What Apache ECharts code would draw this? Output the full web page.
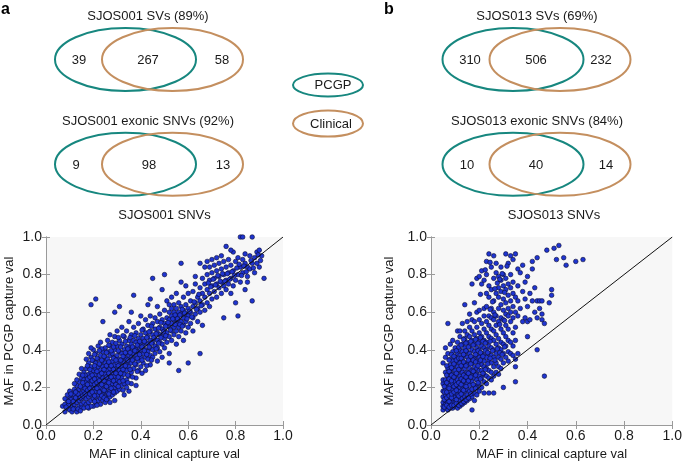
<!DOCTYPE html>
<html><head><meta charset="utf-8">
<script src="https://cdn.jsdelivr.net/npm/echarts@6/dist/echarts.min.js"></script>
<style>html,body{margin:0;padding:0;background:#fff}#c{width:685px;height:464px}</style>
</head><body><div id="c"></div>
<script>
// ---------- data ----------
const vennTitles = ['SJOS001 SVs (89%)', 'SJOS001 exonic SNVs (92%)', 'SJOS013 SVs (69%)', 'SJOS013 exonic SNVs (84%)'];
const vennSJOS001SV = [39, 267, 58];
const vennSJOS001SNV = [9, 98, 13];
const vennSJOS013SV = [310, 506, 232];
const vennSJOS013SNV = [10, 40, 14];
const legendNames = ['PCGP', 'Clinical'];
const scatterTitles = ['SJOS001 SNVs', 'SJOS013 SNVs'];
const xAxisName = 'MAF in clinical capture val';
const yAxisName = 'MAF in PCGP capture val';
const tickValues = [0, 0.2, 0.4, 0.6, 0.8, 1.0];
const diagonal = [[0, 0], [1, 1]];

const sjos001Points = [
[.07,.10],[.08,.11],[.08,.07],[.09,.09],[.09,.13],[.10,.08],[.10,.12],[.10,.15],[.11,.10],[.11,.14],[.11,.17],[.12,.09],[.12,.13],[.12,.16],[.12,.11],[.08,.14],[.09,.16],[.10,.18],[.11,.07],[.12,.19],[.13,.07],
[.13,.12],[.13,.15],[.13,.18],[.13,.21],[.14,.10],[.14,.13],[.14,.16],[.14,.19],[.14,.23],[.15,.11],[.15,.14],[.15,.17],[.15,.20],[.15,.25],[.15,.30],[.16,.12],[.16,.15],[.16,.18],[.16,.21],[.16,.24],[.16,.28],[.13,.24],[.14,.27],[.15,.09],[.16,.09],[.12,.22],
[.17,.11],[.17,.14],[.17,.17],[.17,.20],[.17,.23],[.17,.26],[.17,.30],[.18,.12],[.18,.15],[.18,.18],[.18,.21],[.18,.24],[.18,.27],[.18,.33],[.19,.13],[.19,.16],[.19,.19],[.19,.22],[.19,.25],[.19,.28],[.19,.31],[.19,.36],[.20,.10],[.20,.14],[.20,.17],[.20,.20],[.20,.23],[.20,.26],[.20,.29],[.20,.34],[.20,.40],[.17,.35],[.18,.38],[.19,.41],[.19,.64],[.18,.09],[.19,.10],
[.21,.12],[.21,.15],[.21,.18],[.21,.21],[.21,.24],[.21,.27],[.21,.30],[.21,.33],[.21,.38],[.21,.67],[.22,.13],[.22,.16],[.22,.19],[.22,.22],[.22,.25],[.22,.28],[.22,.31],[.22,.35],[.22,.42],[.23,.11],[.23,.14],[.23,.17],[.23,.20],[.23,.23],[.23,.26],[.23,.29],[.23,.32],[.23,.37],[.23,.44],[.24,.13],[.24,.16],[.24,.19],[.24,.22],[.24,.25],[.24,.28],[.24,.31],[.24,.34],[.24,.39],[.24,.55],[.25,.12],[.25,.15],[.25,.18],[.25,.21],[.25,.24],[.25,.27],[.25,.30],[.25,.33],[.25,.36],[.25,.41],
[.26,.14],[.26,.17],[.26,.20],[.26,.23],[.26,.26],[.26,.29],[.26,.32],[.26,.35],[.26,.39],[.26,.45],[.27,.15],[.27,.18],[.27,.21],[.27,.24],[.27,.27],[.27,.30],[.27,.33],[.27,.37],[.27,.42],[.27,.48],[.28,.16],[.28,.19],[.28,.22],[.28,.25],[.28,.28],[.28,.31],[.28,.34],[.28,.38],[.28,.44],[.29,.17],[.29,.20],[.29,.23],[.29,.26],[.29,.29],[.29,.32],[.29,.36],[.29,.40],[.29,.47],[.29,.60],[.30,.18],[.30,.21],[.30,.24],[.30,.27],[.30,.30],[.30,.33],[.30,.37],[.30,.42],[.30,.50],[.27,.12],[.29,.13],
[.31,.19],[.31,.23],[.31,.26],[.31,.29],[.31,.32],[.31,.35],[.31,.39],[.31,.45],[.31,.63],[.32,.21],[.32,.25],[.32,.28],[.32,.31],[.32,.34],[.32,.38],[.32,.43],[.32,.52],[.33,.22],[.33,.27],[.33,.30],[.33,.33],[.33,.36],[.33,.40],[.33,.47],[.34,.24],[.34,.29],[.34,.32],[.34,.35],[.34,.38],[.34,.42],[.34,.50],[.35,.18],[.35,.26],[.35,.31],[.35,.34],[.35,.37],[.35,.41],[.35,.45],[.35,.55],[.33,.16],[.34,.20],
[.36,.28],[.36,.33],[.36,.36],[.36,.39],[.36,.43],[.36,.48],[.36,.60],[.37,.30],[.37,.35],[.37,.38],[.37,.41],[.37,.45],[.37,.52],[.37,.69],[.38,.25],[.38,.32],[.38,.37],[.38,.40],[.38,.44],[.38,.49],[.39,.29],[.39,.34],[.39,.39],[.39,.42],[.39,.46],[.39,.54],[.40,.31],[.40,.36],[.40,.40],[.40,.44],[.40,.48],[.40,.58],[.36,.22],[.38,.21],
[.41,.33],[.41,.38],[.41,.42],[.41,.46],[.41,.51],[.42,.29],[.42,.36],[.42,.40],[.42,.44],[.42,.49],[.42,.56],[.43,.35],[.43,.39],[.43,.43],[.43,.47],[.43,.53],[.43,.64],[.44,.32],[.44,.37],[.44,.41],[.44,.45],[.44,.50],[.44,.58],[.45,.36],[.45,.40],[.45,.44],[.45,.48],[.45,.54],[.45,.78],[.44,.67],
[.46,.38],[.46,.42],[.46,.46],[.46,.51],[.46,.57],[.47,.34],[.47,.41],[.47,.45],[.47,.49],[.47,.55],[.48,.39],[.48,.44],[.48,.48],[.48,.52],[.48,.59],[.49,.36],[.49,.43],[.49,.47],[.49,.51],[.49,.56],[.49,.72],[.50,.41],[.50,.46],[.50,.50],[.50,.54],[.50,.61],[.50,.80],[.47,.63],
[.51,.44],[.51,.49],[.51,.53],[.51,.57],[.51,.66],[.52,.33],[.52,.38],[.52,.47],[.52,.52],[.52,.56],[.52,.60],[.53,.45],[.53,.50],[.53,.54],[.53,.58],[.53,.62],[.53,.68],[.54,.48],[.54,.52],[.54,.56],[.54,.60],[.54,.64],[.55,.43],[.55,.50],[.55,.54],[.55,.58],[.55,.62],[.55,.70],[.52,.64],
[.56,.29],[.56,.47],[.56,.52],[.56,.56],[.56,.60],[.56,.65],[.57,.50],[.57,.55],[.57,.59],[.57,.63],[.57,.86],[.58,.45],[.58,.53],[.58,.57],[.58,.61],[.58,.68],[.59,.49],[.59,.55],[.59,.59],[.59,.64],[.59,.74],[.60,.33],[.60,.52],[.60,.58],[.60,.62],[.60,.70],[.57,.76],
[.61,.54],[.61,.60],[.61,.66],[.62,.50],[.62,.57],[.62,.63],[.62,.71],[.63,.59],[.63,.65],[.63,.75],[.64,.55],[.64,.62],[.64,.68],[.65,.38],[.65,.60],[.65,.66],[.65,.73],[.66,.53],[.66,.64],[.66,.70],[.66,.78],[.67,.61],[.67,.68],[.67,.75],[.67,.84],[.68,.65],[.68,.72],[.68,.80],[.68,.87],[.69,.63],[.69,.70],[.69,.77],[.69,.84],[.70,.67],[.70,.74],[.70,.81],[.70,.88],[.65,.86],[.63,.79],
[.71,.71],[.71,.78],[.71,.85],[.72,.68],[.72,.75],[.72,.82],[.72,.89],[.73,.73],[.73,.79],[.73,.86],[.74,.70],[.74,.76],[.74,.83],[.74,.90],[.75,.57],[.75,.74],[.75,.80],[.75,.87],[.76,.72],[.76,.77],[.76,.84],[.76,.95],[.77,.75],[.77,.81],[.77,.88],[.78,.70],[.78,.78],[.78,.85],[.79,.74],[.79,.82],[.79,.92],[.80,.77],[.80,.87],[.80,.65],[.78,.93],
[.81,.58],[.81,.80],[.81,.89],[.82,.76],[.82,.84],[.82,1.0],[.83,.81],[.83,.88],[.83,1.0],[.84,.72],[.84,.86],[.84,.91],[.85,.79],[.85,.84],[.86,.83],[.86,.90],[.87,.66],[.87,.86],[.87,1.0],[.88,.81],[.88,.89],[.89,.92],[.90,.84],[.90,.93],[.91,.90],[.92,.78],[.85,.76],[.89,.86],
[.095,.105],[.105,.135],[.115,.125],[.125,.145],[.135,.165],[.125,.175],[.145,.145],[.145,.205],[.155,.155],[.155,.225],[.165,.165],[.165,.195],[.165,.265],[.175,.185],[.175,.215],[.175,.245],[.185,.165],[.185,.195],[.185,.255],[.185,.295],[.195,.175],[.195,.235],[.195,.265],[.205,.155],[.205,.215],[.205,.245],[.205,.315],[.215,.195],[.215,.225],[.215,.285],[.215,.355],[.225,.175],[.225,.235],[.225,.265],[.225,.325],[.235,.155],[.235,.215],[.235,.275],[.235,.345],[.235,.405],[.245,.185],[.245,.235],[.245,.295],[.245,.365],[.255,.205],[.255,.255],[.255,.315],[.255,.385],[.265,.225],[.265,.275],[.265,.335],[.265,.425],[.275,.195],[.275,.255],[.275,.315],[.275,.395],[.285,.235],[.285,.295],[.285,.355],[.285,.415],[.295,.215],[.295,.275],[.295,.345],[.295,.435],[.305,.255],[.305,.315],[.305,.395],[.305,.465],[.315,.275],[.315,.345],[.315,.415],[.325,.235],[.325,.295],[.325,.365],[.325,.475],[.335,.315],[.335,.385],[.335,.445],[.345,.265],[.345,.345],[.345,.405],[.355,.295],[.355,.385],[.355,.465],[.365,.345],[.365,.415],[.375,.325],[.375,.395],[.375,.475],[.385,.355],[.385,.425],[.395,.375],[.395,.445],[.405,.345],[.405,.415],[.405,.505],[.415,.395],[.415,.445],[.425,.375],[.425,.465],[.435,.415],[.435,.495],[.445,.435],[.445,.525],[.455,.465],[.465,.405],[.465,.485],[.475,.435],[.475,.515],[.485,.465],[.485,.545],[.495,.495],[.505,.525],[.505,.475],[.515,.545],[.525,.505],[.535,.565],[.545,.535],[.545,.585],[.555,.565],[.565,.535],[.565,.585],[.575,.525],[.575,.615],[.585,.595],[.595,.565],[.605,.605],[.615,.575],[.625,.655],[.635,.615],[.645,.695],[.655,.635],[.685,.755],[.695,.735],[.705,.775],[.715,.745],[.725,.795],[.735,.765],[.745,.805],[.755,.765],[.765,.805],[.775,.775],[.785,.815],[.795,.795],[.805,.835],[.815,.855],[.825,.795],[.835,.845],[.845,.815],[.865,.875],[.875,.835],[.895,.905],[.905,.875],
[.135,.085],[.155,.265],[.175,.315],[.195,.345],[.205,.375],[.225,.395],[.245,.145],[.255,.135],[.265,.165],[.285,.175],[.305,.205],[.325,.185],[.345,.225],[.365,.255],[.385,.285],[.405,.275],[.425,.315],[.445,.345],[.205,.125],[.215,.105],[.175,.095],[.145,.075],[.115,.085],[.085,.095],[.095,.125],[.105,.165]
];

const sjos013Points = [
[.05,.08],[.05,.10],[.05,.12],[.05,.15],[.05,.18],[.05,.22],[.05,.24],[.05,.33],[.06,.09],[.06,.11],[.06,.13],[.06,.16],[.06,.19],[.06,.21],[.06,.24],[.06,.28],[.06,.36],[.06,.41],[.07,.08],[.07,.10],[.07,.12],[.07,.14],[.07,.17],[.07,.20],[.07,.23],[.07,.26],[.07,.30],[.07,.38],[.07,.54],[.08,.09],[.08,.11],[.08,.13],[.08,.15],[.08,.18],[.08,.21],[.08,.25],[.08,.28],[.08,.32],[.08,.35],[.08,.43],[.09,.09],[.09,.12],[.09,.14],[.09,.16],[.09,.19],[.09,.22],[.09,.24],[.09,.27],[.09,.30],[.09,.34],[.09,.39],[.09,.45],[.10,.10],[.10,.12],[.10,.15],[.10,.17],[.10,.20],[.10,.23],[.10,.26],[.10,.29],[.10,.32],[.10,.36],[.10,.41],[.11,.09],[.11,.11],[.11,.14],[.11,.16],[.11,.19],[.11,.21],[.11,.24],[.11,.27],[.11,.31],[.11,.34],[.11,.38],[.11,.44],[.11,.50],[.12,.10],[.12,.13],[.12,.15],[.12,.18],[.12,.20],[.12,.23],[.12,.26],[.12,.29],[.12,.33],[.12,.37],[.12,.40],[.12,.47],[.12,.50],
[.13,.11],[.13,.14],[.13,.17],[.13,.19],[.13,.22],[.13,.25],[.13,.28],[.13,.31],[.13,.35],[.13,.39],[.13,.43],[.13,.54],[.14,.12],[.14,.15],[.14,.18],[.14,.21],[.14,.24],[.14,.27],[.14,.30],[.14,.33],[.14,.37],[.14,.41],[.14,.46],[.14,.50],[.14,.64],[.15,.13],[.15,.16],[.15,.19],[.15,.22],[.15,.25],[.15,.28],[.15,.32],[.15,.36],[.15,.39],[.15,.44],[.15,.48],[.15,.55],[.16,.14],[.16,.18],[.16,.21],[.16,.24],[.16,.27],[.16,.30],[.16,.34],[.16,.38],[.16,.42],[.16,.47],[.16,.52],[.16,.59],[.17,.08],[.17,.15],[.17,.19],[.17,.23],[.17,.26],[.17,.29],[.17,.33],[.17,.36],[.17,.40],[.17,.45],[.17,.50],[.17,.56],[.17,.75],[.18,.13],[.18,.17],[.18,.21],[.18,.25],[.18,.28],[.18,.31],[.18,.35],[.18,.39],[.18,.43],[.18,.48],[.18,.55],[.18,.65],[.19,.16],[.19,.20],[.19,.24],[.19,.27],[.19,.30],[.19,.34],[.19,.37],[.19,.41],[.19,.46],[.19,.52],[.19,.60],[.19,.78],[.20,.18],[.20,.22],[.20,.26],[.20,.29],[.20,.33],[.20,.36],[.20,.40],[.20,.44],[.20,.49],[.20,.56],[.20,.61],[.20,.79],
[.21,.20],[.21,.25],[.21,.29],[.21,.32],[.21,.35],[.21,.38],[.21,.42],[.21,.47],[.21,.54],[.21,.75],[.21,.82],[.22,.17],[.22,.23],[.22,.27],[.22,.31],[.22,.34],[.22,.37],[.22,.41],[.22,.45],[.22,.51],[.22,.58],[.22,.62],[.22,.77],[.23,.22],[.23,.26],[.23,.30],[.23,.36],[.23,.40],[.23,.44],[.23,.49],[.23,.55],[.23,.63],[.23,.70],[.23,.80],[.23,.87],[.24,.17],[.24,.25],[.24,.29],[.24,.34],[.24,.38],[.24,.42],[.24,.47],[.24,.53],[.24,.58],[.24,.68],[.24,.74],[.24,.91],[.25,.24],[.25,.28],[.25,.33],[.25,.37],[.25,.41],[.25,.46],[.25,.51],[.25,.57],[.25,.62],[.25,.72],[.25,.84],[.26,.17],[.26,.26],[.26,.31],[.26,.36],[.26,.40],[.26,.45],[.26,.50],[.26,.56],[.26,.60],[.26,.66],[.26,.78],[.26,.90],[.27,.28],[.27,.33],[.27,.38],[.27,.43],[.27,.48],[.27,.53],[.27,.58],[.27,.70],[.27,.81],[.27,.86],[.28,.27],[.28,.31],[.28,.36],[.28,.41],[.28,.46],[.28,.55],[.28,.62],[.28,.68],[.28,.73],[.28,.79],
[.29,.30],[.29,.35],[.29,.40],[.29,.44],[.29,.51],[.29,.57],[.29,.64],[.29,.71],[.29,.77],[.29,.84],[.30,.20],[.30,.33],[.30,.38],[.30,.43],[.30,.49],[.30,.56],[.30,.61],[.30,.67],[.30,.74],[.30,.80],[.31,.36],[.31,.42],[.31,.47],[.31,.53],[.31,.59],[.31,.65],[.31,.72],[.31,.78],[.31,.91],[.32,.34],[.32,.39],[.32,.45],[.32,.51],[.32,.58],[.32,.62],[.32,.69],[.32,.75],[.32,.86],[.33,.38],[.33,.44],[.33,.55],[.33,.60],[.33,.66],[.33,.73],[.33,.80],[.33,.90],[.34,.37],[.34,.42],[.34,.49],[.34,.57],[.34,.63],[.34,.70],[.34,.76],[.34,.88],[.35,.23],[.35,.31],[.35,.35],[.35,.45],[.35,.52],[.35,.60],[.35,.68],[.35,.91],[.36,.38],[.36,.58],[.36,.66],[.36,.74],[.36,.83],
[.37,.62],[.37,.81],[.38,.55],[.38,.71],[.38,.85],[.39,.57],[.39,.67],[.39,.76],[.40,.47],[.40,.55],[.40,.63],[.40,.79],[.41,.56],[.41,.70],[.42,.66],[.42,.83],[.42,.87],[.43,.73],[.43,.60],[.44,.40],[.44,.57],[.44,.66],[.44,.89],[.45,.62],[.45,.66],[.46,.56],[.46,.66],[.46,.59],[.47,.26],[.47,.54],[.48,.93],[.49,.65],[.50,.72],[.50,.69],[.51,.94],[.52,.88],[.53,.955],[.55,.89],[.56,.85],[.60,.87],[.63,.88],
[.055,.095],[.055,.135],[.055,.175],[.055,.205],[.065,.105],[.065,.145],[.065,.175],[.065,.225],[.065,.265],[.065,.315],[.075,.095],[.075,.125],[.075,.155],[.075,.195],[.075,.245],[.075,.285],[.075,.345],[.085,.105],[.085,.145],[.085,.165],[.085,.235],[.085,.265],[.085,.305],[.085,.375],[.095,.105],[.095,.175],[.095,.205],[.095,.255],[.095,.325],[.095,.365],[.105,.115],[.105,.135],[.105,.185],[.105,.215],[.105,.275],[.105,.345],[.105,.395],[.115,.105],[.115,.155],[.115,.225],[.115,.295],[.115,.355],[.115,.415],[.125,.115],[.125,.165],[.125,.215],[.125,.245],[.125,.315],[.125,.355],[.125,.425],[.135,.125],[.135,.185],[.135,.235],[.135,.265],[.135,.335],[.135,.375],[.135,.455],[.145,.135],[.145,.205],[.145,.255],[.145,.315],[.145,.395],[.145,.435],[.155,.145],[.155,.235],[.155,.275],[.155,.345],[.155,.415],[.165,.165],[.165,.255],[.165,.325],[.165,.365],[.165,.445],[.175,.215],[.175,.285],[.175,.345],[.175,.425],[.185,.195],[.185,.265],[.185,.335],[.185,.375],[.185,.455],[.195,.225],[.195,.315],[.195,.395],[.195,.435],[.205,.245],[.205,.345],[.205,.385],[.205,.465],[.215,.275],[.215,.365],[.215,.445],[.225,.295],[.225,.395],[.225,.435],[.235,.325],[.235,.385],[.245,.355],[.245,.445],[.255,.395],[.265,.345],[.275,.405],[.285,.385],[.295,.375],[.305,.415],[.275,.755],[.285,.775],[.265,.725],[.295,.805],[.305,.705],[.315,.845],[.255,.655],[.245,.615],[.265,.585],[.285,.535],[.305,.555],[.245,.865],[.225,.825],[.205,.695]
];

// ---------- styling ----------
const TEAL = '#17877f';
const BROWN = '#c48f5f';
const FONT = 'Liberation Sans, Arial, sans-serif';
const TXT = '#1a1a1a';

function txt(x, y, s, extra) {
  return Object.assign({ type: 'text', x: x, y: y, style: { text: s, fill: TXT, font: '13px ' + FONT, textAlign: 'center', textVerticalAlign: 'middle' } }, extra || {});
}
function ell(cx, cy, rx, ry, color) {
  return { type: 'ellipse', shape: { cx: cx, cy: cy, rx: rx, ry: ry }, style: { fill: 'none', stroke: color, lineWidth: 2 } };
}
function venn(title, counts, leftCx, cy, titleX, numXs) {
  return [
    txt(titleX, cy - 43, title),
    ell(leftCx, cy, 70.5, 31.5, TEAL),
    ell(leftCx + 47, cy, 70.5, 31.5, BROWN),
    txt(numXs[0], cy + 1, String(counts[0])),
    txt(numXs[1], cy + 1, String(counts[1])),
    txt(numXs[2], cy + 1, String(counts[2]))
  ];
}

const graphics = [].concat(
  venn(vennTitles[0], vennSJOS001SV, 125.5, 59.5, 148, [79, 148, 222]),
  venn(vennTitles[1], vennSJOS001SNV, 125.5, 164.3, 148, [76, 149, 223]),
  venn(vennTitles[2], vennSJOS013SV, 513, 59.5, 537, [470, 536, 601]),
  venn(vennTitles[3], vennSJOS013SNV, 513, 164.3, 537, [467, 536, 606]),
  [
    ell(328, 85, 35, 11.5, TEAL),
    txt(333, 85.5, legendNames[0]),
    ell(328, 123.5, 35, 13, BROWN),
    txt(331, 124, legendNames[1]),
    { type: 'text', x: 1, y: 2, style: { text: 'a', fill: '#000', font: 'bold 16px ' + FONT } },
    { type: 'text', x: 384, y: 2, style: { text: 'b', fill: '#000', font: 'bold 16px ' + FONT } },
    txt(164.5, 215, scatterTitles[0]),
    txt(554, 215, scatterTitles[1])
  ]
);

const grids = [
  { left: 46, top: 237, width: 237, height: 188 },
  { left: 431, top: 237, width: 246, height: 188 }
];

const xAxes = [], yAxes = [];
const axisColor = '#9a9a9a';
const labelStyle = { color: TXT, fontSize: 14, fontFamily: FONT };
[0, 1].forEach(function (g) {
  xAxes.push({
    type: 'value', gridIndex: g, min: 0, max: 1, interval: 0.2, position: 'bottom',
    name: xAxisName, nameLocation: 'middle', nameGap: 23,
    nameTextStyle: { color: TXT, fontSize: 13, fontFamily: FONT },
    axisLine: { show: true, lineStyle: { color: axisColor } },
    axisTick: { show: true, inside: true, length: 4, lineStyle: { color: axisColor } },
    axisLabel: Object.assign({ margin: 4, formatter: function (v) { return v.toFixed(1); } }, labelStyle),
    splitLine: { show: false }
  });
  xAxes.push({
    type: 'value', gridIndex: g, min: 0, max: 1, interval: 0.2, position: 'top',
    axisLine: { show: true, lineStyle: { color: axisColor } },
    axisTick: { show: true, inside: true, length: 4, lineStyle: { color: axisColor } },
    axisLabel: { show: false }, splitLine: { show: false }
  });
  yAxes.push({
    type: 'value', gridIndex: g, min: 0, max: 1, interval: 0.2, position: 'left',
    name: yAxisName, nameLocation: 'middle', nameGap: g === 0 ? 30 : 35,
    nameTextStyle: { color: TXT, fontSize: 13, fontFamily: FONT },
    axisLine: { show: true, lineStyle: { color: axisColor } },
    axisTick: { show: true, inside: true, length: 4, lineStyle: { color: axisColor } },
    axisLabel: Object.assign({ margin: 4, formatter: function (v) { return v.toFixed(1); } }, labelStyle),
    splitLine: { show: false }
  });
  yAxes.push({
    type: 'value', gridIndex: g, min: 0, max: 1, interval: 0.2, position: 'right',
    axisLine: { show: true, lineStyle: { color: axisColor } },
    axisTick: { show: true, inside: true, length: 4, lineStyle: { color: axisColor } },
    axisLabel: { show: false }, splitLine: { show: false }
  });
});

const pointStyle = { color: '#1f35d0', borderColor: '#0a0a30', borderWidth: 0.6, opacity: 1 };
const series = [
  { type: 'scatter', xAxisIndex: 0, yAxisIndex: 0, data: sjos001Points, symbolSize: 4.6, itemStyle: pointStyle, z: 2 },
  { type: 'line', xAxisIndex: 0, yAxisIndex: 0, data: diagonal, symbol: 'none', lineStyle: { color: '#111', width: 1 }, z: 3 },
  { type: 'scatter', xAxisIndex: 2, yAxisIndex: 2, data: sjos013Points, symbolSize: 4.6, itemStyle: pointStyle, z: 2 },
  { type: 'line', xAxisIndex: 2, yAxisIndex: 2, data: diagonal, symbol: 'none', lineStyle: { color: '#111', width: 1 }, z: 3 }
];

const chart = echarts.init(document.getElementById('c'), null, { renderer: 'canvas' });
chart.setOption({
  animation: false,
  backgroundColor: '#fff',
  grid: grids.map(function (g) { return Object.assign({ show: true, backgroundColor: '#f7f7f7', borderWidth: 0 }, g); }),
  xAxis: xAxes,
  yAxis: yAxes,
  series: series,
  graphic: graphics
});
</script>
</body></html>
